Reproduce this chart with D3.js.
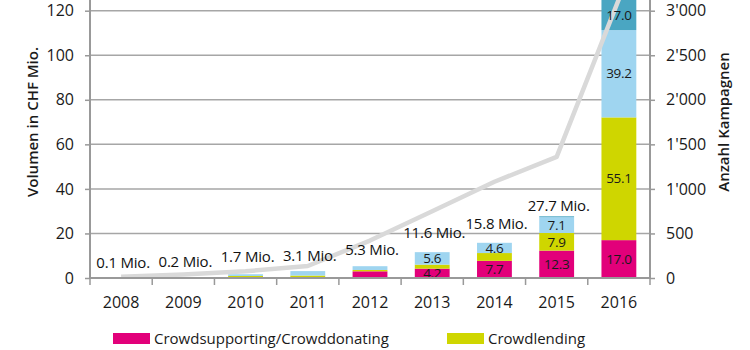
<!DOCTYPE html>
<html>
<head>
<meta charset="utf-8">
<script src="https://cdn.jsdelivr.net/npm/d3@7"></script>
<style>
  body { margin: 0; background: #fff; }
  text { font-family: "Open Sans", sans-serif; fill: #1a1a1a; }
</style>
</head>
<body>
<div id="chart"></div>
<script>
// data
var years = ["2008", "2009", "2010", "2011", "2012", "2013", "2014", "2015", "2016"];
var donating = [0.05, 0.1, 0.1, 0.2, 3.0, 4.2, 7.7, 12.3, 17.0];
var lending = [0.0, 0.0, 0.8, 0.9, 0.6, 1.8, 3.5, 7.9, 55.1];
var investing = [0.05, 0.1, 0.8, 2.0, 1.7, 5.6, 4.6, 7.1, 39.2];
var realestate = [0, 0, 0, 0, 0, 0, 0, 0.4, 17.0];
var totals = ["0.1", "0.2", "1.7", "3.1", "5.3", "11.6", "15.8", "27.7"];
var campaigns = [15, 40, 75, 135, 420, 750, 1080, 1360, 3130];
var seriesNames = ["Crowdsupporting/Crowddonating", "Crowdlending", "Crowdinvesting", "Immobilien"];
var leftTicks = [0, 20, 40, 60, 80, 100, 120];
var rightTicks = [0, 500, 1000, 1500, 2000, 2500, 3000];

var colors = ["#e2007a", "#cfd600", "#9fd5f0", "#4aa6c2"];
var labelLift = [15, 16, 17, 15, 16, 19, 19, 11]; // keep labels clear of the line

var width = 750, height = 350;
var svg = d3.select("#chart").append("svg")
    .attr("width", width)
    .attr("height", height);

var x = d3.scaleBand().domain(years).range([90, 650]).paddingInner(0.44).paddingOuter(0.22);
var y = d3.scaleLinear().domain([0, 120]).range([278, 10.7]);
var y2 = d3.scaleLinear().domain([0, 3000]).range([278, 10.7]);

var swiss = d3.formatLocale({ decimal: ".", thousands: "'", grouping: [3], currency: ["", ""] });
var fmt2 = swiss.format(",");

// gridlines
svg.append("g").selectAll("line")
    .data(leftTicks.filter(function (d) { return d > 0; }))
    .enter().append("line")
    .attr("x1", 90).attr("x2", 650)
    .attr("y1", function (d) { return y(d); })
    .attr("y2", function (d) { return y(d); })
    .attr("stroke", "#a6a6a6")
    .attr("stroke-width", 1.5);

// stacked bars
var table = years.map(function (yr, i) {
    return { year: yr, s0: donating[i], s1: lending[i], s2: investing[i], s3: realestate[i] };
});
var stack = d3.stack().keys(["s0", "s1", "s2", "s3"]);
var layers = stack(table);

var gBars = svg.append("g");
layers.forEach(function (layer, k) {
    gBars.selectAll(null)
        .data(layer)
        .enter().append("rect")
        .attr("x", function (d) { return x(d.data.year); })
        .attr("width", x.bandwidth())
        .attr("y", function (d) { return y(d[1]); })
        .attr("height", function (d) { return Math.max(0, y(d[0]) - y(d[1])); })
        .attr("fill", colors[k]);
});

// campaign line (over bars, under texts)
var line = d3.line()
    .x(function (d, i) { return x(years[i]) + x.bandwidth() / 2; })
    .y(function (d) { return y2(d); });
svg.append("path")
    .datum(campaigns)
    .attr("d", line)
    .attr("fill", "none")
    .attr("stroke", "#d9d9d9")
    .attr("stroke-width", 4.5)
    .attr("stroke-linejoin", "round");

// value labels in segments
var gVals = svg.append("g");
layers.forEach(function (layer, k) {
    gVals.selectAll(null)
        .data(layer.filter(function (d) { return d[1] - d[0] >= 3.5; }))
        .enter().append("text")
        .attr("x", function (d) { return x(d.data.year) + x.bandwidth() / 2; })
        .attr("y", function (d) {
            var top = Math.max(y(d[1]), 0);
            return (top + y(d[0])) / 2;
        })
        .attr("dy", "0.35em")
        .attr("text-anchor", "middle")
        .style("font-size", "13.5px")
        .style("letter-spacing", "-0.3px")
        .text(function (d) { return (d[1] - d[0]).toFixed(1); });
});

// total labels
svg.append("g").selectAll("text")
    .data(totals)
    .enter().append("text")
    .attr("x", function (d, i) { return x(years[i]) + x.bandwidth() / 2 + 2; })
    .attr("y", function (d, i) {
        var tot = donating[i] + lending[i] + investing[i] + realestate[i];
        return y(tot) - labelLift[i];
    })
    .attr("dy", "0.35em")
    .attr("text-anchor", "middle")
    .style("font-size", "15px")
    .style("font-weight", 500)
    .style("letter-spacing", "-0.2px")
    .style("fill", "#111")
    .text(function (d) { return d + " Mio."; });

// axes
var axisColor = "#999";
var left = svg.append("g").attr("transform", "translate(90,0)")
    .call(d3.axisLeft(y).tickValues(leftTicks).tickSize(5).tickSizeOuter(0).tickPadding(11));
var right = svg.append("g").attr("transform", "translate(650,0)")
    .call(d3.axisRight(y2).tickValues(rightTicks).tickFormat(fmt2).tickSize(5).tickSizeOuter(0).tickPadding(11));
[left, right].forEach(function (g) {
    g.select(".domain").remove();
    g.selectAll(".tick line").attr("stroke", axisColor).attr("stroke-width", 1.5);
    g.selectAll(".tick text").style("font-size", "16px").style("font-family", "'Open Sans', sans-serif").attr("fill", "#1a1a1a");
});
svg.append("line").attr("x1", 90).attr("x2", 90).attr("y1", 0).attr("y2", 278)
    .attr("stroke", axisColor).attr("stroke-width", 2);
svg.append("line").attr("x1", 650).attr("x2", 650).attr("y1", 0).attr("y2", 278)
    .attr("stroke", axisColor).attr("stroke-width", 2);

// bottom axis
var bottom = svg.append("g");
bottom.append("line")
    .attr("x1", 90).attr("x2", 650).attr("y1", 278).attr("y2", 278)
    .attr("stroke", axisColor).attr("stroke-width", 2);
var bounds = d3.range(years.length + 1).map(function (i) { return 90 + i * x.step(); });
bottom.selectAll("line.tk")
    .data(bounds)
    .enter().append("line")
    .attr("class", "tk")
    .attr("x1", function (d) { return d; }).attr("x2", function (d) { return d; })
    .attr("y1", 278).attr("y2", 285)
    .attr("stroke", axisColor).attr("stroke-width", 1.5);
bottom.selectAll("text")
    .data(years)
    .enter().append("text")
    .attr("x", function (d) { return x(d) + x.bandwidth() / 2; })
    .attr("y", 302)
    .attr("dy", "0.35em")
    .attr("text-anchor", "middle")
    .style("font-size", "16px")
    .text(function (d) { return d; });

// axis titles
svg.append("text")
    .attr("transform", "translate(33,122) rotate(-90)")
    .attr("text-anchor", "middle")
    .attr("dy", "0.35em")
    .style("font-size", "15px")
    .style("font-weight", 600)
    .text("Volumen in CHF Mio.");
svg.append("text")
    .attr("transform", "translate(724,122) rotate(-90)")
    .attr("text-anchor", "middle")
    .attr("dy", "0.35em")
    .style("font-size", "15px")
    .style("font-weight", 600)
    .text("Anzahl Kampagnen");

// legend
var legendX = [113, 447];
var legend = svg.append("g").selectAll("g")
    .data(seriesNames.slice(0, 2))
    .enter().append("g")
    .attr("transform", function (d, i) { return "translate(" + legendX[i] + ",333)"; });
legend.append("rect")
    .attr("width", 37).attr("height", 11)
    .attr("fill", function (d, i) { return colors[i]; });
legend.append("text")
    .attr("x", 41).attr("y", 5.5)
    .attr("dy", "0.35em")
    .style("font-size", "15px")
    .text(function (d) { return d; });
</script>
</body>
</html>
